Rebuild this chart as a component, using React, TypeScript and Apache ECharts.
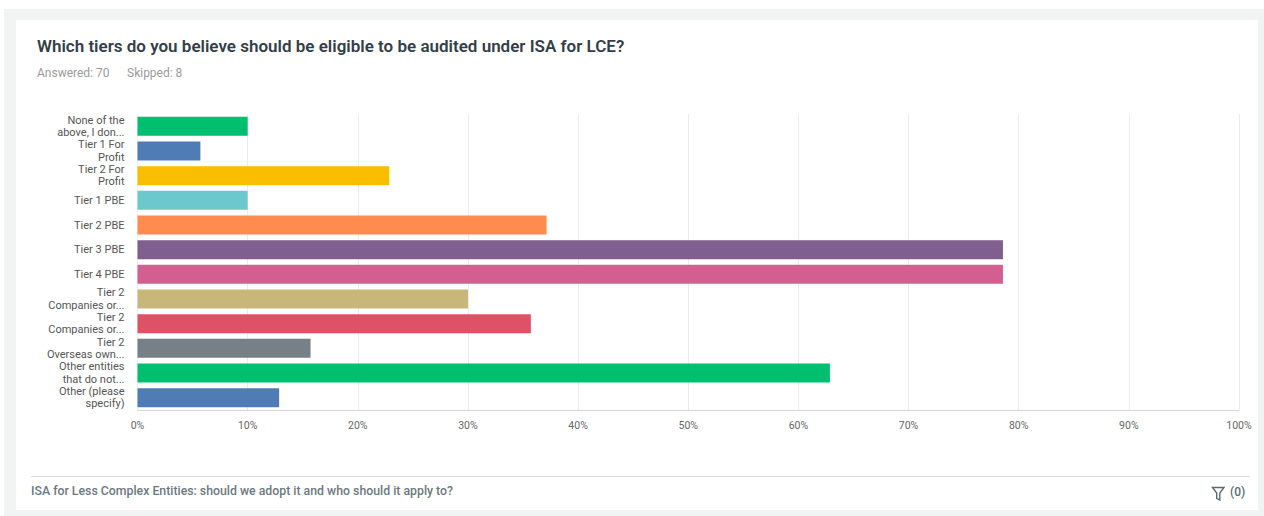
import React, { useEffect, useRef } from "react";
import * as echarts from "echarts";

const TITLE = "Which tiers do you believe should be eligible to be audited under ISA for LCE?";
const ANSWERED = "Answered: 70";
const SKIPPED = "Skipped: 8";
const FOOTER = "ISA for Less Complex Entities: should we adopt it and who should it apply to?";
const FILTER_COUNT = "(0)";

const categories = [
  "None of the\nabove, I don...",
  "Tier 1 For\nProfit",
  "Tier 2 For\nProfit",
  "Tier 1 PBE",
  "Tier 2 PBE",
  "Tier 3 PBE",
  "Tier 4 PBE",
  "Tier 2\nCompanies or...",
  "Tier 2\nCompanies or...",
  "Tier 2\nOverseas own...",
  "Other entities\nthat do not...",
  "Other (please\nspecify)",
];

// percentage of respondents
const values = [10.0, 5.71, 22.86, 10.0, 37.14, 78.57, 78.57, 30.0, 35.71, 15.71, 62.86, 12.86];

const colors = [
  "#00bf6f",
  "#507cb6",
  "#f9be00",
  "#6bc8cd",
  "#ff8b4f",
  "#7f5f90",
  "#d25f90",
  "#c7b879",
  "#df5266",
  "#768086",
  "#00bf6f",
  "#507cb6",
];

const xTicks = [0, 10, 20, 30, 40, 50, 60, 70, 80, 90, 100];

const FONT = "Roboto, 'Noto Sans', sans-serif";

export default function App() {
  const ref = useRef<HTMLDivElement>(null);

  useEffect(() => {
    if (!ref.current) return;
    const chart = echarts.init(ref.current, undefined, { renderer: "svg" });
    chart.setOption({
      animation: false,
      grid: { left: 137.5, right: 25, top: 114, bottom: 106, containLabel: false },
      xAxis: {
        type: "value",
        min: xTicks[0],
        max: xTicks[xTicks.length - 1],
        interval: 10,
        axisLine: { show: true, lineStyle: { color: "#d6d8d8", width: 1 } },
        axisTick: { show: false },
        splitLine: { show: true, lineStyle: { color: "#ececec", width: 1 } },
        axisLabel: {
          formatter: "{value}%",
          color: "#666",
          fontSize: 10.5,
          fontFamily: FONT,
          margin: 10,
        },
      },
      yAxis: {
        type: "category",
        inverse: true,
        data: categories,
        axisLine: { show: false },
        axisTick: { show: false },
        splitLine: { show: false },
        axisLabel: {
          interval: 0,
          showMinLabel: true,
          showMaxLabel: true,
          hideOverlap: false,
          color: "#555",
          fontSize: 11,
          fontFamily: FONT,
          lineHeight: 12.5,
          margin: 13,
          align: "right",
        },
      },
      series: [
        {
          type: "bar",
          barWidth: 19,
          data: values.map((v, i) => ({
            value: v,
            itemStyle: { color: colors[i] },
          })),
        },
      ],
      graphic: [
        {
          type: "text",
          left: 37,
          top: 37,
          style: {
            text: TITLE,
            fill: "#333e48",
            font: `600 17px ${FONT}`,
          },
        },
        {
          type: "text",
          left: 37,
          top: 67,
          style: {
            text: ANSWERED,
            fill: "#9b9b9b",
            font: `400 12px ${FONT}`,
          },
        },
        {
          type: "text",
          left: 127,
          top: 67,
          style: {
            text: SKIPPED,
            fill: "#9b9b9b",
            font: `400 12px ${FONT}`,
          },
        },
        {
          type: "line",
          shape: { x1: 31, y1: 476.5, x2: 1250, y2: 476.5 },
          style: { stroke: "#dedede", lineWidth: 1 },
        },
        {
          type: "text",
          left: 31,
          top: 485,
          style: {
            text: FOOTER,
            fill: "#6b787f",
            font: `500 12.3px ${FONT}`,
          },
        },
        {
          type: "polygon",
          shape: {
            points: [
              [1212.5, 487.5],
              [1224, 487.5],
              [1219.8, 493],
              [1219.8, 500],
              [1216.7, 498.3],
              [1216.7, 493],
            ],
          },
          style: { fill: "none", stroke: "#5f6a70", lineWidth: 1.4 },
        },
        {
          type: "text",
          left: 1230,
          top: 486,
          style: {
            text: FILTER_COUNT,
            fill: "#5f6a70",
            font: `500 12px ${FONT}`,
          },
        },
      ],
    });
    return () => chart.dispose();
  }, []);

  return (
    <div
      style={{
        position: "absolute",
        left: 0,
        top: 0,
        width: 1264,
        height: 516,
        background: "#ffffff",
        overflow: "hidden",
      }}
    >
      <div
        style={{
          position: "absolute",
          left: 4,
          top: 9,
          width: 1260,
          height: 507,
          background: "#f2f3f3",
        }}
      />
      <div
        style={{
          position: "absolute",
          left: 16,
          top: 20,
          width: 1242,
          height: 490,
          background: "#ffffff",
        }}
      />
      <div
        ref={ref}
        style={{ position: "absolute", left: 0, top: 0, width: 1264, height: 516 }}
      />
    </div>
  );
}
